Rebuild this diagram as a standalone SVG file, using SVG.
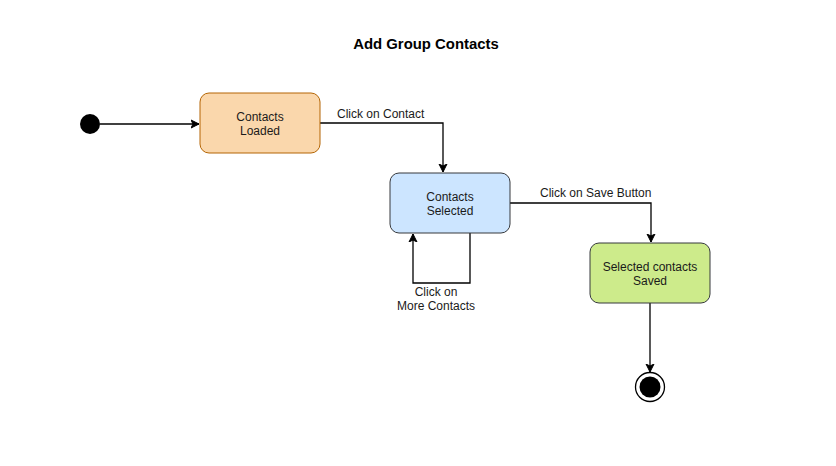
<svg xmlns="http://www.w3.org/2000/svg" width="836" height="466" viewBox="0 0 836 466">
<defs>
<marker id="arr" markerWidth="10" markerHeight="10" refX="8" refY="5" orient="auto" markerUnits="userSpaceOnUse">
<path d="M0,1 L8,5 L0,9 L2,5 Z" fill="#000" stroke="#000" stroke-width="1"/>
</marker>
</defs>
<style>
text{font-family:"Liberation Sans",Arial,sans-serif;font-size:12px;fill:#1a1a1a;text-anchor:middle}
.title{font-weight:bold;font-size:14.9px;fill:#000}
.lbl{text-anchor:start}
.edge{fill:none;stroke:#000;stroke-width:1.3;marker-end:url(#arr)}
</style>
<rect width="836" height="466" fill="#fff"/>
<text class="title" x="426" y="49">Add Group Contacts</text>
<g id="connectors">
<path class="edge" d="M100,124 H199"/>
<path class="edge" d="M320,123 H443 V172"/>
<path class="edge" d="M510,203 H651 V242"/>
<path class="edge" d="M470,233 V283 H413 V234"/>
<path class="edge" d="M650,303 V372"/>
<text class="lbl" x="337" y="118">Click on Contact</text>
<text class="lbl" x="540" y="197">Click on Save Button</text>
<text x="436" y="296">Click on</text>
<text x="436" y="310">More Contacts</text>
</g>
<g id="start"><circle cx="90" cy="124" r="10" fill="#000"/></g>
<g id="loaded">
<rect x="200" y="93" width="120" height="60" rx="9" fill="#fad7ac" stroke="#b46504" stroke-width="1"/>
<text x="260" y="121">Contacts</text>
<text x="260" y="135">Loaded</text>
</g>
<g id="selected">
<rect x="390" y="173" width="120" height="60" rx="9" fill="#cce5ff" stroke="#36393d" stroke-width="1"/>
<text x="450" y="201">Contacts</text>
<text x="450" y="215">Selected</text>
</g>
<g id="saved">
<rect x="590" y="243" width="120" height="60" rx="9" fill="#cdeb8b" stroke="#36393d" stroke-width="1"/>
<text x="650" y="271">Selected contacts</text>
<text x="650" y="285">Saved</text>
</g>
<g id="end">
<circle cx="650" cy="387" r="14.5" fill="#fff" stroke="#000" stroke-width="1.3"/>
<circle cx="650" cy="387" r="10.5" fill="#000"/>
</g>
</svg>
